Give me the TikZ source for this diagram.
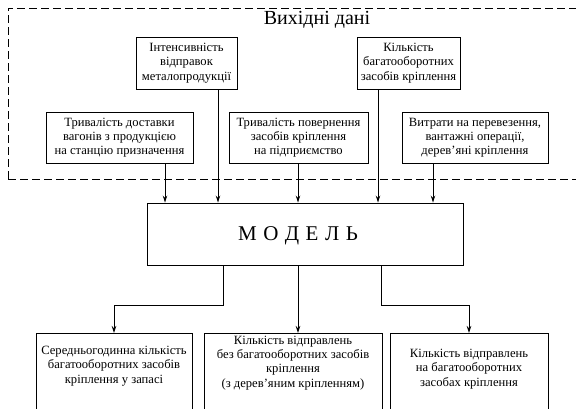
\documentclass[tikz,border=0pt]{standalone}
\usepackage{fontspec}
\setmainfont{Liberation Serif}
\usetikzlibrary{arrows.meta}
\begin{document}
\begin{tikzpicture}[x=1pt,y=-1pt,
  box/.style={draw,line width=0.9pt,align=center,inner sep=0pt,font=\fontsize{12.6}{14.2}\selectfont},
  frame/.style={draw,line width=0.9pt,inner sep=0pt,anchor=north},
  txt/.style={align=center,inner sep=0pt,font=\fontsize{12.6}{14.2}\selectfont},
  arr/.style={line width=0.9pt,-{Stealth[length=7pt,width=4.5pt]}},
  ln/.style={line width=0.9pt}]
\useasboundingbox (0,0) rectangle (576,409);
\clip (0,0) rectangle (576,409);
% dashed input region
\draw[line width=0.9pt,dash pattern=on 8pt off 4pt] (8,179) -- (8,8) -- (590,8);
\draw[line width=0.9pt,dash pattern=on 8pt off 4pt] (8,179) -- (590,179);
\node[font=\fontsize{20}{22}\selectfont,inner sep=0pt] (title) at (317,20) {Вихідні дані};
% input boxes
\node[box,minimum width=101pt,minimum height=52pt] (i1) at (186.5,63) {Інтенсивність\\відправок\\металопродукції};
\node[box,minimum width=103pt,minimum height=52pt] (i2) at (408.5,63) {Кількість\\багатооборотних\\засобів кріплення};
\node[box,minimum width=147pt,minimum height=51pt] (t1) at (119.5,137.5) {Тривалість доставки\\вагонів з продукцією\\на станцію призначення};
\node[box,minimum width=139pt,minimum height=51pt] (t2) at (298.5,137.5) {Тривалість повернення\\засобів кріплення\\на підприємство};
\node[box,minimum width=146pt,minimum height=51pt] (t3) at (475,137.5) {Витрати на перевезення,\\вантажні операції,\\дерев'яні кріплення};
% model
\node[draw,line width=0.9pt,minimum width=316pt,minimum height=62pt,inner sep=0pt] (m) at (305,234) {};
\node[font=\fontsize{21}{24}\selectfont,inner sep=0pt] (mt) at (298,236) {М\hspace{6.5pt}О\hspace{6.5pt}Д\hspace{6.5pt}Е\hspace{6.5pt}Л\hspace{6.5pt}Ь};
% arrow x positions
\coordinate (x1) at (165,0);
\coordinate (x2) at (218,0);
\coordinate (x3) at (298,0);
\coordinate (x4) at (378,0);
\coordinate (x5) at (433,0);
\draw[arr] (t1.south -| x1) -- (m.north -| x1);
\draw[arr] (i1.south -| x2) -- (m.north -| x2);
\draw[arr] (t2.south -| x3) -- (m.north -| x3);
\draw[arr] (i2.south -| x4) -- (m.north -| x4);
\draw[arr] (t3.south -| x5) -- (m.north -| x5);
% outputs
\node[frame,minimum width=156pt,minimum height=90pt] (o1) at (114,333) {};
\node[frame,minimum width=178pt,minimum height=90pt] (o2) at (293,333) {};
\node[frame,minimum width=158pt,minimum height=90pt] (o3) at (469,333) {};
\node[txt] (o1t) at (114,366) {Середньогодинна кількість\\багатооборотних засобів\\кріплення у запасі};
\node[txt] (o2t) at (293,363) {Кількість відправлень\\без багатооборотних засобів\\кріплення\\(з дерев'яним кріпленням)};
\node[txt] (o3t) at (469,369) {Кількість відправлень\\на багатооборотних\\засобах кріплення};
\coordinate (y1) at (223,305);
\coordinate (y3) at (381,305);
\draw[arr] (m.south -| y1) -- (y1) -- (y1 -| o1.north) -- (o1.north);
\draw[arr] (m.south -| x3) -- (o2.north -| x3);
\draw[arr] (m.south -| y3) -- (y3) -- (y3 -| o3.north) -- (o3.north);
\end{tikzpicture}
\end{document}
